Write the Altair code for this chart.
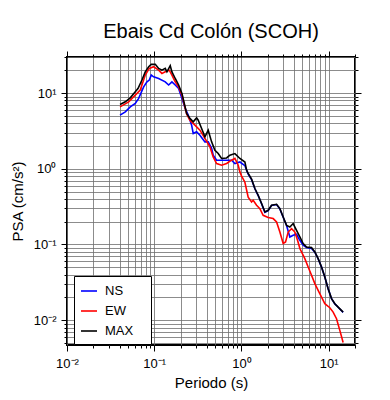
import altair as alt
import pandas as pd

# ---- data ----
T_NS = [0.0405, 0.0466, 0.0531, 0.0606, 0.0663, 0.0756, 0.0825, 0.0877, 0.0924, 0.0984,
        0.1123, 0.1337, 0.1462, 0.1595, 0.1740, 0.1904, 0.2077, 0.2265, 0.2452, 0.2682,
        0.2798, 0.3060, 0.3339, 0.3809, 0.4155, 0.4545, 0.4739, 0.5186, 0.5916, 0.6752,
        0.770, 0.8403, 0.9587, 1.094, 1.193, 1.305, 1.424, 1.553, 1.699, 1.854,
        2.022, 2.212, 2.524, 2.754, 3.005, 3.286, 3.584, 3.910, 4.277, 4.667,
        5.09, 5.57, 6.35, 6.93, 7.56, 8.27, 9.02, 9.84, 10.77, 11.75, 12.82, 14.62]
PSA_NS = [5.12, 5.66, 6.59, 7.31, 8.51, 12.1, 14.1, 14.9, 17.3, 16.4,
          15.6, 14.1, 12.8, 14.1, 12.8, 11.5, 8.51, 6.28, 5.12, 3.77,
          2.93, 3.08, 2.78, 2.27, 2.27, 1.86, 1.51, 1.30, 1.30, 1.30,
          1.30, 1.175, 1.23, 1.10, 0.85, 0.72, 0.545, 0.443, 0.345, 0.266,
          0.280, 0.327, 0.337, 0.295, 0.229, 0.178, 0.1257, 0.1323, 0.1364, 0.1137,
          0.0976, 0.0910, 0.0883, 0.0790, 0.0648, 0.0502, 0.0371, 0.0260, 0.0192, 0.0164, 0.0148, 0.0127]

T_EW = [0.0405, 0.0509, 0.0606, 0.0691, 0.0789, 0.0877, 0.0984, 0.1123, 0.1225, 0.1337,
        0.1485, 0.1595, 0.1740, 0.1904, 0.2077, 0.2350, 0.2564, 0.2926, 0.3339, 0.3809,
        0.4345, 0.4739, 0.5186, 0.5916, 0.6752, 0.770, 0.8403, 0.917, 0.9587, 1.003,
        1.094, 1.193, 1.305, 1.361, 1.489, 1.624, 1.772, 2.022, 2.307, 2.524,
        2.754, 3.005, 3.20, 3.43, 3.75, 4.09, 4.39, 4.667, 5.32, 5.81,
        6.35, 6.93, 7.56, 8.27, 9.02, 10.29, 11.23, 12.28, 13.40, 14.62]
PSA_EW = [6.59, 7.67, 9.41, 10.96, 17.3, 21.2, 22.3, 20.1, 18.2, 19.1,
          20.1, 17.3, 14.1, 12.1, 9.41, 5.3, 4.39, 3.77, 3.24, 2.52,
          1.95, 1.44, 1.175, 1.116, 1.175, 1.30, 1.37, 1.116, 0.910, 0.80,
          0.665, 0.421, 0.365, 0.384, 0.330, 0.298, 0.243, 0.227, 0.220, 0.198,
          0.146, 0.103, 0.108, 0.146, 0.162, 0.146, 0.1137, 0.0883, 0.0651, 0.0504,
          0.0392, 0.0304, 0.0248, 0.0202, 0.0165, 0.0146, 0.0128, 0.01047, 0.00733, 0.00506]

T_MAX = [0.0405, 0.0466, 0.0531, 0.0606, 0.0651, 0.0723, 0.0789, 0.0863, 0.0924, 0.1027,
         0.1123, 0.1225, 0.1337, 0.1398, 0.1525, 0.1595, 0.1740, 0.1904, 0.2077, 0.2350,
         0.2564, 0.2798, 0.3060, 0.3192, 0.3491, 0.3809, 0.4155, 0.4545, 0.4958, 0.5409,
         0.5916, 0.6752, 0.7364, 0.8403, 0.9587, 1.094, 1.144, 1.193, 1.305, 1.424,
         1.553, 1.699, 1.854, 2.022, 2.212, 2.524, 2.754, 3.005, 3.286, 3.584,
         3.910, 4.277, 4.667, 5.09, 5.57, 6.35, 6.93, 7.56, 8.27, 9.02,
         9.84, 10.77, 11.75, 12.82, 14.62]
PSA_MAX = [7.09, 7.67, 8.67, 10.4, 11.5, 14.9, 19.1, 22.3, 24.0, 24.0,
           21.2, 20.1, 21.2, 19.1, 23.0, 19.1, 15.6, 12.8, 9.91, 5.39,
           4.63, 4.17, 4.71, 4.39, 3.41, 2.64, 3.24, 2.27, 1.76, 1.59,
           1.37, 1.39, 1.51, 1.59, 1.37, 1.23, 0.958, 0.867, 0.729, 0.549,
           0.447, 0.348, 0.269, 0.283, 0.330, 0.340, 0.298, 0.231, 0.179, 0.170,
           0.189, 0.154, 0.126, 0.103, 0.0927, 0.0910, 0.0796, 0.0651, 0.0504, 0.0372,
           0.0261, 0.0193, 0.0165, 0.0149, 0.0128]

SERIES = ["NS", "EW", "MAX"]
COLORS = ["#0000ff", "#ff0000", "#000000"]
WIDTHS = [1.6, 1.6, 3.2]

X_MAJOR = [0.01, 0.1, 1, 10]
X_LABELS = ["10\u207b\u00b2", "10\u207b\u00b9", "10\u2070", "10\u00b9"]
Y_MAJOR = [0.01, 0.1, 1, 10]
Y_LABELS = ["10\u207b\u00b2", "10\u207b\u00b9", "10\u2070", "10\u00b9"]
X_DOMAIN = [0.01, 20]
Y_DOMAIN = [0.0047, 30]

rows = []
for name, ts, vs in [("NS", T_NS, PSA_NS), ("EW", T_EW, PSA_EW), ("MAX", T_MAX, PSA_MAX)]:
    for t, v in zip(ts, vs):
        rows.append({"comp": name, "T": t, "PSA": v})
df = pd.DataFrame(rows)


def log_ticks(lo, hi):
    out = []
    for e in range(-4, 3):
        for m in range(1, 10):
            v = round(m * 10.0 ** e, 10)
            if lo * 0.999 <= v <= hi * 1.001:
                out.append(v)
    return out


def label_expr(vals, labs):
    expr = "''"
    for v, l in reversed(list(zip(vals, labs))):
        expr = f"abs(datum.value/{v} - 1) < 1e-6 ? '{l}' : ({expr})"
    return expr


MAJOR_TEST = "abs(log(datum.value)/LN10 - round(log(datum.value)/LN10)) < 1e-6"
tick_size = {"condition": {"test": MAJOR_TEST, "value": 6}, "value": 3}

FONT = "Liberation Sans"
GRID = "#6e6e6e"
xt = log_ticks(*X_DOMAIN)
yt = log_ticks(*Y_DOMAIN)

x_scale = alt.Scale(type="log", domain=X_DOMAIN, nice=False)
y_scale = alt.Scale(type="log", domain=Y_DOMAIN, nice=False)

# the legend title is a white spacer that widens the boxed legend to the reference width
color = alt.Color("comp:N", scale=alt.Scale(domain=SERIES, range=COLORS),
                  legend=alt.Legend(title="M", titleOrient="right", titleFontSize=12,
                                    titleColor="white", titlePadding=2, titleFont=FONT,
                                    orient="none", legendX=7, legendY=219,
                                    direction="vertical",
                                    fillColor="white", strokeColor="black",
                                    padding=6, rowPadding=4,
                                    symbolType="stroke", symbolSize=256,
                                    symbolStrokeWidth=2.4, labelFontSize=13,
                                    labelFont=FONT, labelOffset=7, labelColor="black"))

main = alt.Chart(df).mark_line(clip=True).encode(
    x=alt.X("T:Q", scale=x_scale,
            axis=alt.Axis(orient="bottom", values=xt, labelExpr=label_expr(X_MAJOR, X_LABELS),
                          grid=True, gridColor=GRID, gridWidth=0.8,
                          domain=False, tickColor="black", tickSize=tick_size,
                          labelFont=FONT, labelFontSize=13, labelColor="black",
                          labelPadding=6, labelFlush=False,
                          title="Periodo (s)", titleFont=FONT, titleFontSize=15,
                          titleFontWeight="normal", titleColor="black", titlePadding=5)),
    y=alt.Y("PSA:Q", scale=y_scale,
            axis=alt.Axis(orient="left", values=yt, labelExpr=label_expr(Y_MAJOR, Y_LABELS),
                          grid=True, gridColor=GRID, gridWidth=0.8,
                          domain=False, tickColor="black", tickSize=tick_size,
                          labelFont=FONT, labelFontSize=13, labelColor="black",
                          labelPadding=5, labelFlush=False,
                          title="PSA (cm/s\u00b2)", titleFont=FONT, titleFontSize=15,
                          titleFontWeight="normal", titleColor="black", titlePadding=8)),
    color=color,
    strokeWidth=alt.StrokeWidth("comp:N", scale=alt.Scale(domain=SERIES, range=WIDTHS), legend=None),
)

ghost = alt.Chart(df).mark_line(opacity=0).encode(
    x=alt.X("T:Q", scale=x_scale,
            axis=alt.Axis(orient="top", values=xt, labels=False, grid=False, domain=False,
                          tickColor="black", tickSize=tick_size, title=None)),
    y=alt.Y("PSA:Q", scale=y_scale,
            axis=alt.Axis(orient="right", values=yt, labels=False, grid=False, domain=False,
                          tickColor="black", tickSize=tick_size, title=None)),
)

chart = alt.layer(main, ghost).resolve_axis(x="independent", y="independent").properties(
    width=288, height=288,
    autosize=alt.AutoSizeParams(type="none"),
    padding={"left": 59, "top": 49, "right": 26, "bottom": 47},
    title=alt.TitleParams("Ebais Cd Colón (SCOH)", font=FONT, fontSize=20,
                          fontWeight="normal", color="black", anchor="middle", offset=9),
).configure_view(stroke="black", strokeWidth=2)

chart.save("out.html", embed_options={"renderer": "svg", "actions": False})
